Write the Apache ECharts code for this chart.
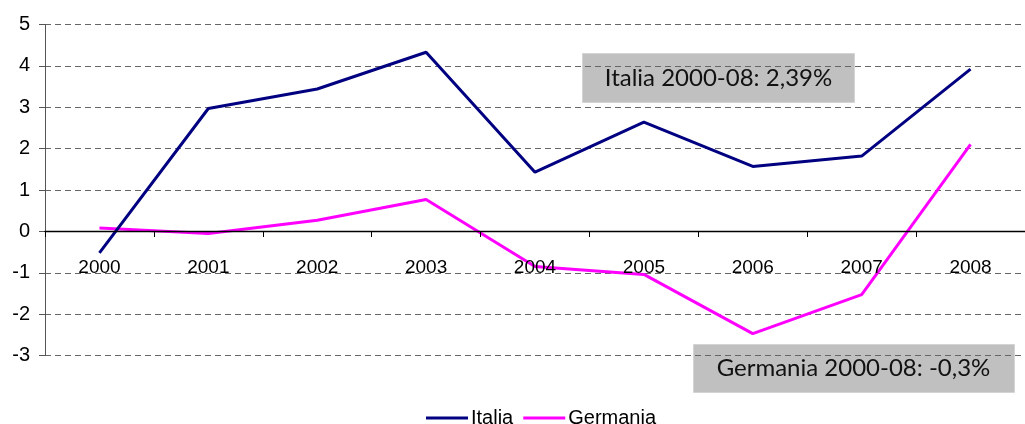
<!DOCTYPE html>
<html><head><meta charset="utf-8">
<script src="https://cdn.jsdelivr.net/npm/echarts@6/dist/echarts.min.js"></script>
<style>html,body{margin:0;padding:0;background:#fff}#c{width:1025px;height:424px}</style>
</head><body><div id="c"></div>
<script>
const years = ['2000','2001','2002','2003','2004','2005','2006','2007','2008'];
const italia = [-0.52, 2.97, 3.44, 4.33, 1.43, 2.64, 1.57, 1.82, 3.92];
const germania = [0.08, -0.05, 0.27, 0.77, -0.85, -1.04, -2.47, -1.53, 2.1];
const yTicks = [-3, -2, -1, 0, 1, 2, 3, 4, 5];
const noteItalia = 'Italia 2000-08: 2,39%';
const noteGermania = 'Germania 2000-08: -0,3%';

const chart = echarts.init(document.getElementById('c'));
chart.setOption({
  animation: false,
  textStyle: { fontFamily: 'Liberation Sans, Arial, sans-serif' },
  grid: { left: 45, right: -9, top: 24.5, bottom: 68.5, containLabel: false },
  legend: {
    top: 403, left: 421,
    data: ['Italia', 'Germania'],
    icon: 'rect', itemWidth: 42, itemHeight: 3, itemGap: 10,
    textStyle: { fontSize: 20, color: '#000', padding: [0, 0, 0, -2] }
  },
  xAxis: {
    type: 'category', data: years, boundaryGap: true,
    position: 'bottom', offset: -124.5, z: 5,
    axisLine: { show: true, onZero: false, lineStyle: { color: '#000', width: 1.3 } },
    axisTick: { show: true, interval: 0, length: 6, lineStyle: { color: '#000', width: 1 } },
    axisLabel: { interval: 0, color: '#000', fontSize: 19, margin: 27 },
    splitLine: { show: false }
  },
  yAxis: {
    type: 'value', min: yTicks[0], max: yTicks[yTicks.length - 1], interval: 1,
    axisLine: { show: true, lineStyle: { color: '#555', width: 1 } },
    axisTick: { show: true, inside: false, length: 6, lineStyle: { color: '#555' } },
    axisLabel: { color: '#000', fontSize: 20, margin: 15 },
    splitLine: { show: true, lineStyle: { color: '#666', type: [6, 4], width: 1 } }
  },
  graphic: [
    { type: 'group', left: 582, top: 53, z: 10, children: [
      { type: 'rect', shape: { x: 0, y: 0, width: 272, height: 49 }, style: { fill: '#C0C0C0', stroke: '#D4D4D4', lineWidth: 1 } },
      { type: 'text', x: 136, y: 25, style: { text: noteItalia, fill: '#111', font: '24px Lato, "Noto Sans", sans-serif', align: 'center', verticalAlign: 'middle' } }
    ]},
    { type: 'group', left: 693, top: 344, z: 10, children: [
      { type: 'rect', shape: { x: 0, y: 0, width: 321, height: 48 }, style: { fill: '#C0C0C0', stroke: '#D4D4D4', lineWidth: 1 } },
      { type: 'text', x: 160, y: 24, style: { text: noteGermania, fill: '#111', font: '24px Lato, "Noto Sans", sans-serif', align: 'center', verticalAlign: 'middle' } }
    ]}
  ],
  series: [
    { name: 'Italia', type: 'line', data: italia, symbol: 'none', lineStyle: { color: '#000080', width: 3 }, itemStyle: { color: '#000080' }, z: 3 },
    { name: 'Germania', type: 'line', data: germania, symbol: 'none', lineStyle: { color: '#FF00FF', width: 3 }, itemStyle: { color: '#FF00FF' }, z: 2 }
  ]
});
</script></body></html>
